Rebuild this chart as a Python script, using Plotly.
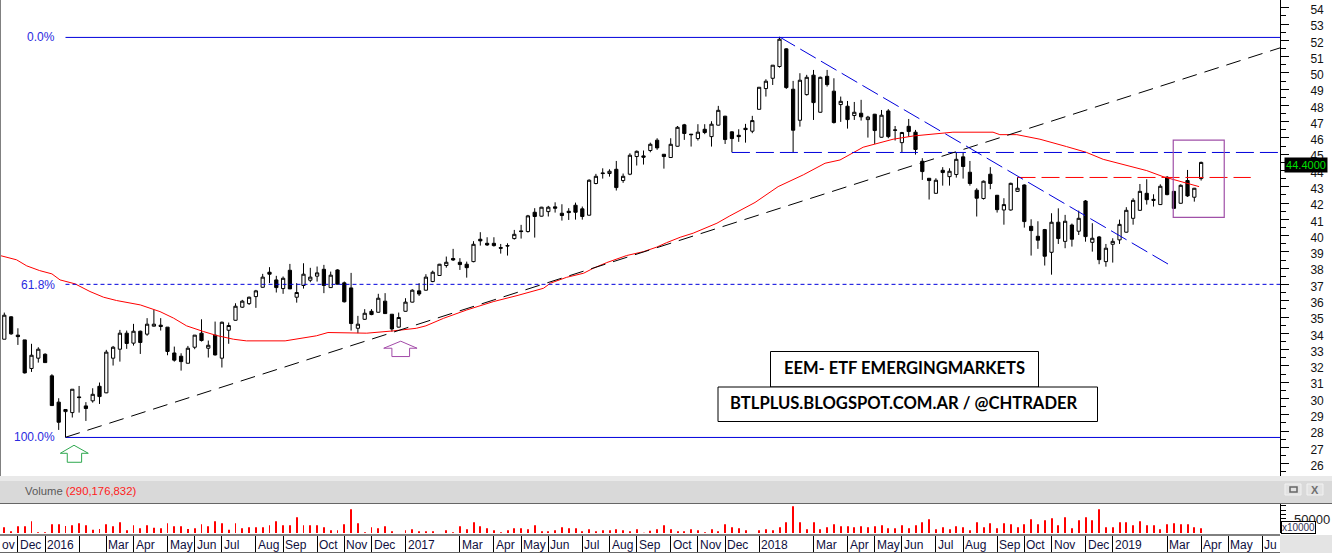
import plotly.graph_objects as go

W = 1332
H = 553

# weekly candles, values
opens = [33.58,34.95,33.83,33.54,31.79,32.42,32.66,31.34,29.73,29.15,
         29.09,30.05,29.50,29.81,30.70,30.30,32.42,32.97,33.95,33.34,
         34.07,33.89,34.38,34.44,34.32,32.74,32.54,32.11,33.09,33.95,
         33.03,33.83,32.42,34.13,34.74,35.54,35.76,36.19,36.76,37.68,
         37.21,36.68,37.80,36.15,36.87,37.19,37.44,37.86,36.74,37.82,
         37.03,36.72,34.25,34.80,35.29,35.23,35.91,35.11,34.32,35.29,
         35.85,36.54,36.58,37.11,37.48,38.09,38.52,38.29,38.17,38.33,
         39.70,39.45,39.45,39.19,39.31,39.74,40.21,40.17,41.35,41.11,
         41.39,41.68,41.29,41.41,41.78,41.56,41.17,43.11,43.76,43.72,
         43.98,43.29,43.68,44.76,44.80,45.13,45.76,44.90,44.70,45.39,
         46.70,46.13,45.86,46.43,45.98,46.68,47.23,46.27,46.06,46.49,
         46.31,47.65,48.92,49.55,50.27,51.35,48.88,46.98,48.55,49.74,
         47.47,49.67,48.76,47.94,47.84,47.27,47.41,47.02,47.35,45.94,
         47.55,46.39,45.61,46.61,46.25,44.47,43.43,42.51,43.92,43.53,
         43.66,44.74,43.80,42.70,42.19,43.68,42.39,41.49,41.49,42.63,
         43.02,40.49,39.88,40.29,38.90,40.74,39.57,40.57,40.19,42.04,
         39.51,39.84,38.33,39.39,39.66,40.13,40.98,41.47,42.51,42.14,
         41.82,43.49,42.63,41.90,43.29,42.27,43.41]
highs = [35.21,34.99,34.25,33.54,33.30,33.09,32.72,31.44,29.97,29.28,
         30.52,30.72,29.73,30.58,30.93,32.93,33.17,34.15,34.11,34.52,
         34.11,34.87,35.38,34.87,34.32,33.13,32.72,33.17,33.83,34.80,
         33.50,34.66,34.66,34.60,35.78,35.99,36.19,36.60,37.58,37.99,
         37.46,37.42,38.19,37.01,38.23,37.95,38.03,38.13,37.72,37.86,
         37.11,37.64,35.01,35.42,35.42,36.36,36.40,35.11,35.21,36.09,
         36.64,37.01,37.56,37.78,38.19,38.64,39.11,38.54,38.33,39.58,
         40.13,39.82,39.82,39.41,39.45,40.27,40.58,41.19,41.60,41.68,
         41.74,41.96,41.84,41.60,41.94,41.70,43.37,43.70,44.04,43.98,
         44.49,43.72,44.96,45.13,45.13,45.61,45.88,44.90,45.88,46.63,
         46.76,46.13,46.74,46.74,46.92,47.86,47.25,46.31,46.43,46.76,
         47.25,49.00,49.49,50.35,52.06,51.39,49.39,49.86,49.76,50.06,
         49.65,50.06,49.55,48.43,48.16,48.10,48.23,47.25,47.37,47.61,
         47.66,46.63,46.27,47.06,46.39,44.66,43.43,43.43,44.11,44.04,
         45.00,45.00,44.49,42.82,43.29,44.11,42.41,42.21,43.16,43.49,
         43.06,40.92,40.80,40.33,41.29,41.59,41.19,40.66,41.45,42.10,
         40.68,39.90,39.41,39.76,40.90,41.66,42.21,43.08,43.37,42.45,
         43.06,43.57,42.65,43.06,43.94,42.84,44.45]
lows = [33.58,33.85,33.23,31.48,31.58,32.15,32.15,29.52,28.03,27.58,
        28.79,29.09,28.58,29.70,29.62,30.28,31.97,32.21,32.99,33.19,
        32.68,33.79,34.36,34.11,32.60,32.21,31.66,32.11,32.97,33.44,
        32.46,32.58,31.85,33.30,34.72,35.50,35.68,35.50,36.74,37.01,
        36.44,36.36,36.66,35.82,36.68,37.07,37.11,36.40,36.74,36.93,
        35.83,34.11,33.95,34.76,35.05,35.21,35.13,34.05,34.30,35.27,
        35.83,36.23,36.56,37.07,37.46,37.96,38.37,37.82,37.35,38.29,
        39.31,39.29,39.25,38.82,38.70,39.68,39.74,40.11,39.80,41.09,
        41.09,41.33,40.84,40.88,40.90,40.90,41.15,43.06,43.41,43.53,
        42.68,43.15,43.62,44.21,44.27,45.02,45.17,44.02,44.68,45.37,
        45.78,45.37,45.74,46.13,45.37,46.66,45.53,45.02,45.66,45.61,
        46.19,47.65,48.43,49.14,50.20,48.90,45.02,46.59,48.49,47.00,
        47.45,49.04,46.78,46.88,46.47,47.00,46.96,45.92,45.53,45.92,
        45.88,45.74,45.02,45.98,44.88,43.33,42.13,42.49,42.98,42.98,
        43.47,43.41,42.98,41.09,42.13,42.76,41.33,40.59,41.45,42.59,
        40.41,38.70,39.11,38.09,37.53,39.41,39.15,39.25,39.96,39.55,
        38.94,38.17,38.02,38.27,39.41,40.11,40.59,41.43,41.82,41.70,
        41.80,42.39,41.55,41.88,42.29,42.00,43.29]
closes = [35.05,33.91,33.74,31.52,32.60,32.97,32.15,29.52,28.50,29.28,
          30.52,30.01,29.34,30.21,30.07,32.79,33.09,33.95,33.32,34.07,
          33.38,34.50,34.50,34.36,32.83,32.30,32.21,33.03,33.83,33.50,
          33.21,32.62,34.62,34.42,35.60,35.91,36.15,36.54,37.38,37.56,
          36.74,37.31,36.66,36.44,37.56,37.38,37.64,36.87,37.50,36.95,
          35.87,34.54,34.50,35.17,35.09,36.09,35.15,34.21,34.91,35.85,
          36.58,36.35,37.38,37.68,38.17,38.29,38.43,38.15,37.96,39.39,
          39.60,39.35,39.31,39.15,39.29,40.00,40.17,41.13,41.09,41.66,
          41.66,41.60,41.15,41.33,41.35,41.09,43.31,43.55,43.72,43.86,
          42.86,43.55,44.84,45.08,44.72,45.51,45.29,44.76,45.51,46.55,
          46.17,46.10,46.25,46.23,46.74,47.59,45.80,45.86,45.98,46.41,
          46.96,49.00,49.37,50.35,51.94,48.98,46.37,49.43,49.61,48.06,
          49.61,49.16,46.84,48.14,47.02,47.47,47.19,47.17,46.35,47.29,
          45.98,46.37,46.23,46.29,45.19,43.84,43.29,43.31,43.78,43.86,
          44.59,44.15,43.11,42.21,43.25,43.11,41.51,41.82,43.12,42.82,
          40.78,40.23,39.64,38.66,40.74,39.74,40.80,39.70,40.98,39.86,
          39.76,38.45,39.15,39.57,40.61,41.47,42.08,42.63,42.12,42.08,
          42.94,42.43,41.59,43.00,42.35,42.82,44.40]
# volume in units of 10000 shares
volumes = [31180,22160,33440,33440,44720,19900,19900,37950,37950,34190,
           35700,40210,35700,25920,27420,37950,33440,42460,24420,35700,
           28930,35700,30430,28930,40210,33440,33440,27420,28930,37950,
           33440,44720,40210,25920,40210,28930,31180,31180,31180,35700,
           44720,35700,35700,53740,35700,35700,35700,31180,24420,24420,
           37950,71790,40210,19900,31180,28930,33440,22160,18400,24420,
           26670,22160,22160,22160,18400,24420,19900,33440,26670,42460,
           33440,28930,24420,19900,24420,28930,28930,26670,35700,22160,
           22160,24420,31180,28930,28930,22160,26670,22160,24420,24420,
           26670,24420,22160,26670,19150,23660,26670,35700,26670,22160,
           22160,26670,24420,19900,26670,22160,37950,31180,28930,24420,
           18400,24420,26670,24420,31180,42460,78560,42460,26670,42460,
           26670,31180,37950,33440,33440,31180,33440,31180,33440,35700,
           28930,28930,35700,28930,35700,42460,49230,26670,31180,26670,
           33440,31180,24420,42460,31180,40210,28930,40210,37950,31180,
           37950,49230,37950,46980,51490,35700,53740,28930,46980,53740,
           46980,71790,31180,31180,42460,42460,35700,44720,35700,35700,
           26670,37950,40210,37950,37950,31180,29018]
candle_idx = list(range(len(closes)))

# moving average, read at a few places along the curve
ma_x = [-0.6,1.8,3.3,5.2,7,8.2,10.4,12.6,14.6,16.5,20,22.9,24.9,26.8,29.3,31.2,33.7,35.6,41.3,43,
        45.9,47.6,51.6,53.3,57.2,60.6,62,64.6,68,71.9,75.4,79.3,80.3,82.7,85.2,86.6,88.6,91.5,94,95.9,
        97.4,99.4,101.3,104.8,106.7,110.4,113.8,117.5,120.7,122.9,126.3,130.7,133.7,136.6,139.5,145.4,146.4,
        148.9,152.3,156.2,159.1,161.6,168,170.4,172.9,175.7]
ma_y = [38.70,38.44,38.07,37.78,37.58,37.21,36.97,36.50,36.15,35.95,35.68,35.27,34.87,34.40,34.05,33.81,33.58,33.48,33.48,33.60,
        33.79,33.99,33.95,33.95,34.09,34.25,34.40,34.86,35.37,35.88,36.25,36.70,37.01,37.37,37.62,37.92,38.27,38.70,38.94,39.21,
        39.49,39.82,40.07,40.68,41.13,41.95,42.92,43.64,44.35,44.55,45.33,45.82,46.02,46.12,46.25,46.25,46.10,
        46.10,45.82,45.37,45.02,44.59,43.90,43.53,43.23,42.92]

x_right = 187.6
fib_start = 9
fib_0 = 52.05
fib_618 = 36.94
fib_100 = 27.57
support_y = 45.01
resist_y = 43.48
trend_up_x = [9, 187.6]
trend_up_y = [27.58, 51.41]
trend_down_x = [114, 171.8]
trend_down_y = [52.08, 38.02]
green_arrow_x = [10.25,12.35,11.37,11.37,9.26,9.26,8.24,10.25]
green_arrow_y = [27.09,26.60,26.60,26.05,26.05,26.60,26.60,27.09]
purple_arrow_x = [58.3,60.7,59.6,59.6,57.0,57.0,55.8,58.3]
purple_arrow_y = [33.46,33.03,33.03,32.52,32.52,33.03,33.03,33.46]

date_ticks = [2,6,11,15,19,24,28,32,37,41,46,50,54,59,67,72,76,80,85,89,93,98,102,106,111,119,124,128,
              132,137,141,146,150,154,159,163,171,176,180,185]
date_labels = ["Dec","2016","","Mar","Apr","May","Jun","Jul","Aug","Sep","Oct","Nov","Dec","2017",
               "Mar","Apr","May","Jun","Jul","Aug","Sep","Oct","Nov","Dec","2018","Mar","Apr","May",
               "Jun","Jul","Aug","Sep","Oct","Nov","Dec","2019","Mar","Apr","May","Ju"]


def px(x):
    return x / W


def py(y):
    return 1 - y / H


BLUE = "#0000dc"
font_ui = "Liberation Sans"


def hline(y, x0, x1, color, dash=None, width=1):
    return go.Scatter(x=[x0, x1], y=[y, y], mode="lines", line=dict(color=color, dash=dash, width=width), hoverinfo="skip")


fig = go.Figure()
fig.add_trace(go.Candlestick(x=candle_idx, open=opens, high=highs, low=lows, close=closes,
                             whiskerwidth=0,
                             increasing=dict(fillcolor="white", line=dict(color="black", width=1)),
                             decreasing=dict(fillcolor="black", line=dict(color="black", width=1))))
fig.add_trace(go.Scatter(x=ma_x, y=ma_y, mode="lines", line=dict(color="#ff0000", width=1)))
fig.add_trace(hline(fib_0, fib_start, x_right, BLUE))
fig.add_trace(hline(fib_100, fib_start, x_right, BLUE))
fig.add_trace(hline(fib_618, fib_start, x_right, BLUE, "4px,3px"))
fig.add_trace(hline(support_y, 107, x_right, BLUE, "18px,6px"))
fig.add_trace(hline(resist_y, 149, 183.3, "#ff0000", "18px,6px"))
fig.add_trace(go.Scatter(x=trend_up_x, y=trend_up_y, mode="lines", line=dict(color="black", dash="15px,8px", width=1)))
fig.add_trace(go.Scatter(x=trend_down_x, y=trend_down_y, mode="lines", line=dict(color=BLUE, dash="18px,6px", width=1)))
fig.add_trace(go.Scatter(x=green_arrow_x, y=green_arrow_y, mode="lines", line=dict(color="#2ea84f", width=1)))
fig.add_trace(go.Scatter(x=purple_arrow_x, y=purple_arrow_y, mode="lines", line=dict(color="#a24aa8", width=1)))
fig.add_trace(go.Bar(x=candle_idx, y=volumes, width=0.1471, marker=dict(color="#ff0000", line=dict(width=0)),
                     xaxis="x2", yaxis="y2"))
# carrier for the tick axis on the right, its ticks sit a touch apart from the candle scale
fig.add_trace(go.Scatter(x=[0], y=[40], mode="lines", line=dict(width=0), yaxis="y3"))

shapes = [
    # purple box round the last candles
    dict(type="rect", x0=171.9, x1=179.4, y0=41.04, y1=45.76, line=dict(color="#a050a8", width=1.2)),
    # window furniture
    dict(type="rect", xref="paper", yref="paper", x0=0, x1=1, y0=py(503), y1=py(476), fillcolor="#e9e9e9", line_width=0, layer="below"),
    dict(type="rect", xref="paper", yref="paper", x0=0, x1=1, y0=py(503), y1=py(481), fillcolor="#d9d9d9", line_width=0, layer="below"),
    dict(type="line", xref="paper", yref="paper", x0=0, x1=1, y0=py(503.5), y1=py(503.5), line=dict(color="#666666", width=1)),
    dict(type="rect", xref="paper", yref="paper", x0=px(1280), x1=1, y0=0, y1=py(535), fillcolor="#e4e4e4", line_width=0, layer="below"),
    dict(type="line", xref="paper", yref="paper", x0=0, x1=px(1280), y0=py(552.5), y1=py(552.5), line=dict(color="#666666", width=1)),
    dict(type="line", xref="paper", yref="paper", x0=0, x1=px(1280), y0=py(535), y1=py(535), line=dict(color="black", width=1)),
    dict(type="line", xref="paper", yref="paper", x0=px(0.5), x1=px(0.5), y0=py(476), y1=1, line=dict(color="#808080", width=1)),
    # pane buttons
    dict(type="rect", xref="paper", yref="paper", x0=px(1285), x1=px(1301), y0=py(495), y1=py(484), fillcolor="#e2e2e2", line=dict(color="#f2f2f2", width=1)),
    dict(type="rect", xref="paper", yref="paper", x0=px(1290), x1=px(1297), y0=py(492), y1=py(487), fillcolor="#e2e2e2", line=dict(color="#666666", width=1.5)),
    dict(type="rect", xref="paper", yref="paper", x0=px(1307), x1=px(1323), y0=py(495), y1=py(484), fillcolor="#e2e2e2", line=dict(color="#f2f2f2", width=1)),
    # caption boxes
    dict(type="rect", xref="paper", yref="paper", x0=px(770.5), x1=px(1038.5), y0=py(387), y1=py(351.5), fillcolor="white", line=dict(color="black", width=1)),
    dict(type="rect", xref="paper", yref="paper", x0=px(718), x1=px(1097.5), y0=py(421.5), y1=py(387), fillcolor="white", line=dict(color="black", width=1)),
]

annotations = [
    dict(x=px(57), y=py(37), xref="paper", yref="paper", text="0.0%", xanchor="right", yanchor="middle", showarrow=False, font=dict(family=font_ui, size=12, color="#2a2ae0")),
    dict(x=px(57), y=py(284.5), xref="paper", yref="paper", text="61.8%", xanchor="right", yanchor="middle", showarrow=False, font=dict(family=font_ui, size=12, color="#2a2ae0")),
    dict(x=px(57), y=py(437), xref="paper", yref="paper", text="100.0%", xanchor="right", yanchor="middle", showarrow=False, font=dict(family=font_ui, size=12, color="#2a2ae0")),
    dict(x=px(904.5), y=py(368), xref="paper", yref="paper", text="<b>EEM- ETF EMERGINGMARKETS</b>", xanchor="center", yanchor="middle", showarrow=False, font=dict(family="Lato", size=16.5, color="#000000")),
    dict(x=px(904), y=py(403), xref="paper", yref="paper", text="<b>BTLPLUS.BLOGSPOT.COM.AR / @CHTRADER</b>", xanchor="center", yanchor="middle", showarrow=False, font=dict(family="Lato", size=16.6, color="#000000")),
    dict(x=px(1284), y=py(164.5), xref="paper", yref="paper", text="44.4000", xanchor="left", yanchor="middle", showarrow=False, bgcolor="black", width=42, height=14, borderpad=0, font=dict(family=font_ui, size=11, color="#00e000")),
    dict(x=px(23), y=py(490.5), xref="paper", yref="paper", text="<span style='color:#5a5a5a'>Volume</span> <span style='color:#ff2020'>(290,176,832)</span>", xanchor="left", yanchor="middle", showarrow=False, font=dict(family=font_ui, size=11.3)),
    dict(x=px(1315), y=py(489.5), xref="paper", yref="paper", text="<b>X</b>", xanchor="center", yanchor="middle", showarrow=False, font=dict(family=font_ui, size=11, color="#707070")),
    dict(x=px(1292), y=py(519), xref="paper", yref="paper", text="50000", xanchor="left", yanchor="middle", showarrow=False, font=dict(family=font_ui, size=13, color="#222222")),
    dict(x=px(1281), y=py(527), xref="paper", yref="paper", text="x10000", xanchor="left", yanchor="middle", showarrow=False, bgcolor="white", bordercolor="black", borderwidth=1, borderpad=0, width=33, height=11, font=dict(family=font_ui, size=10, color="#333355")),
    dict(x=px(0), y=py(544.5), xref="paper", yref="paper", text="ov", xanchor="left", yanchor="middle", showarrow=False, font=dict(family=font_ui, size=12, color="#101040")),
]
for tick, label in zip(date_ticks, date_labels):
    if label:
        annotations.append(dict(x=tick, y=py(544.5), xref="x2", yref="paper", text=label, xanchor="left", yanchor="middle",
                                xshift=0, showarrow=False, font=dict(family=font_ui, size=12, color="#101040")))

fig.update_layout(
    width=W, height=H, margin=dict(l=0, r=0, t=0, b=0, pad=0),
    paper_bgcolor="white", plot_bgcolor="white", showlegend=False, hovermode=False,
    boxgap=0.32,
    xaxis=dict(domain=[0, px(1280)], range=[-0.632, 187.6], showticklabels=False, showgrid=False, zeroline=False,
               rangeslider=dict(visible=False), ticks=""),
    yaxis=dict(domain=[py(476), 1], range=[25.21, 54.34], side="right", showticklabels=False, ticks="",
               showgrid=False, zeroline=False),
    yaxis3=dict(domain=[py(476), 1], range=[25.24, 54.475], side="right", overlaying="y", anchor="x", dtick=1, tick0=0,
                ticks="outside", ticklen=8, tickcolor="black", showgrid=False, zeroline=False, showline=True,
                linecolor="black", linewidth=1, ticklabelstandoff=19, ticklabelshift=2,
                tickfont=dict(family=font_ui, size=12, color="#111111"),
                minor=dict(dtick=0.5, ticks="outside", ticklen=5, tickcolor="black")),
    xaxis2=dict(domain=[0, px(1280)], range=[-0.632, 187.6], anchor="free", position=py(535), side="bottom",
                tickmode="array", tickvals=date_ticks, ticktext=[""] * len(date_ticks), ticks="outside", ticklen=17,
                tickcolor="black", tickwidth=1, showgrid=False, zeroline=False),
    yaxis2=dict(domain=[py(533), py(503)], range=[18400, 86080], side="right", anchor="x2", dtick=10000, ticks="outside",
                ticklen=5, tickcolor="black", showticklabels=False, showgrid=False, zeroline=False, showline=True,
                linecolor="black", linewidth=1),
    shapes=shapes, annotations=annotations,
)

fig.write_html("out.html", config=dict(displayModeBar=False),
               post_script="document.body.style.margin='0';document.body.style.overflow='hidden';")
